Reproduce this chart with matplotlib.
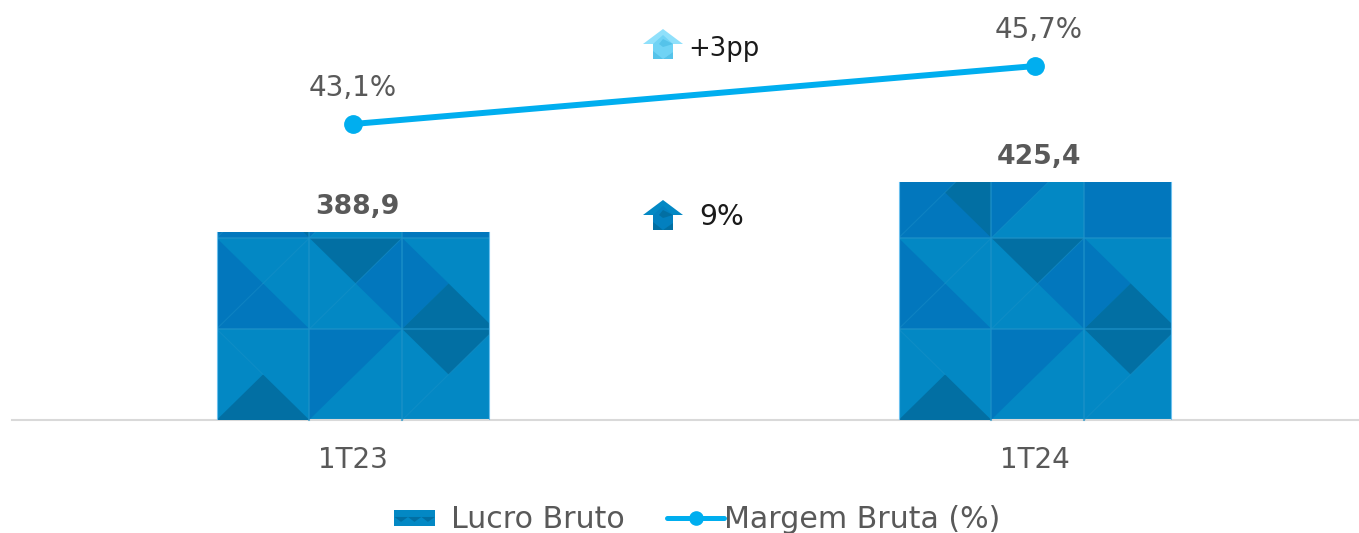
import matplotlib
matplotlib.use('Agg')
import matplotlib.pyplot as plt
from matplotlib.patches import Polygon, Rectangle
from matplotlib.lines import Line2D
from matplotlib.legend_handler import HandlerPatch

categories = ['1T23', '1T24']
lucro_bruto = [388.9, 425.4]
margem_bruta = [43.1, 45.7]
lucro_labels = ['388,9', '425,4']
margem_labels = ['43,1%', '45,7%']

BASE = '#0388c4'
MID = '#0277bd'
DARK = '#026fa3'
LINE = '#00aeef'
GRAY = '#595959'

# tile of the bar fill, in cells (u, v) from the bottom left of the bar
tile = [
    (DARK, [(0, 0), (1, 0), (0.5, 0.5)]),
    (MID, [(1, 0), (1, 1), (2, 1)]),
    (DARK, [(2, 1), (3, 1), (2.5, 0.5)]),
    (MID, [(0, 2), (0.5, 1.5), (1, 1), (0, 1)]),
    (DARK, [(1, 2), (2, 2), (1.5, 1.5)]),
    (MID, [(2, 2), (1.5, 1.5), (2, 1)]),
    (MID, [(2, 2), (2.5, 1.5), (2, 1)]),
    (DARK, [(2.5, 1.5), (3, 1), (2, 1)]),
    (MID, [(0, 2), (1, 2), (1, 3), (0, 3)]),
    (DARK, [(1, 2), (1, 3), (0.5, 2.5)]),
    (MID, [(1, 2), (1, 3), (2, 3)]),
    (MID, [(2, 2), (3, 2), (3, 3), (2, 3)]),
]
# faint diagonals inside the tile
seams = [
    [(0, 1), (0.5, 0.5)], [(2, 0), (3, 1)], [(0, 1), (0.5, 1.5)],
    [(0.5, 1.5), (1, 2)], [(1, 1), (2, 2)], [(0, 2), (1, 3)], [(1, 2), (2, 3)],
]

fig = plt.figure(figsize=(13.59, 5.33), dpi=100)
ax = fig.add_axes([12 / 1359, 113 / 533, 1347 / 1359, 420 / 533])
x = list(range(len(categories)))
bars = ax.bar(x, lucro_bruto, width=0.4, color=BASE, zorder=2)
ax.set_xlim(-0.5, 1.475)
ax.set_ylim(251.6, 558.4)
ax.set_xticks(x)
ax.set_xticklabels(categories, fontsize=20, color=GRAY)
ax.tick_params(axis='x', length=0, pad=18.5)
ax.set_yticks([])
for s in ['top', 'left', 'right']:
    ax.spines[s].set_visible(False)
ax.spines['bottom'].set_color('#d9d9d9')
ax.spines['bottom'].set_linewidth(1.5)

cell_h = 66.5
for bar in bars:
    x0 = bar.get_x()
    w = bar.get_width()
    y0 = ax.get_ylim()[0]
    cell_w = w / 2.94
    for color, pts in tile:
        xy = [(x0 + u * cell_w, y0 + v * cell_h) for u, v in pts]
        p = Polygon(xy, closed=True, fc=color, ec='none', zorder=3)
        ax.add_patch(p)
        p.set_clip_path(bar)
    for pts in seams:
        l, = ax.plot([x0 + u * cell_w for u, v in pts], [y0 + v * cell_h for u, v in pts],
                     color='#1f93c9', lw=0.8, alpha=0.4, zorder=4)
        l.set_clip_path(bar)
    # lighter seams between the cells
    for u in [1, 2]:
        l, = ax.plot([x0 + u * cell_w] * 2, [y0, y0 + 3 * cell_h], color='#1f93c9', lw=1.5, alpha=0.6, zorder=4)
        l.set_clip_path(bar)
    for v in [1, 2]:
        l, = ax.plot([x0, x0 + w], [y0 + v * cell_h] * 2, color='#1f93c9', lw=1.5, alpha=0.6, zorder=4)
        l.set_clip_path(bar)
    for side in [x0, x0 + w]:
        ax.plot([side, side], [y0, bar.get_height()], color='#6cc0ee', lw=0.8, zorder=4)

for i, label in enumerate(lucro_labels):
    ax.annotate(label, (x[i], lucro_bruto[i]), xytext=(3, 18), textcoords='offset points',
                ha='center', va='center', fontsize=19.2, fontweight='bold', color=GRAY)

ax2 = ax.twinx()
ax2.set_ylim(29.83, 48.66)
ax2.set_yticks([])
for s in ax2.spines.values():
    s.set_visible(False)
ax2.plot(x, margem_bruta, color=LINE, lw=4.3, marker='o', ms=12.5, solid_capstyle='round')
for i, label_off in enumerate(zip(margem_labels, [0, 2.5])):
    label, off = label_off
    ax2.annotate(label, (x[i], margem_bruta[i]), xytext=(off, 26), textcoords='offset points',
                 ha='center', va='center', fontsize=20, color=GRAY)


def arrow(cx, cy, main, shade, dark):
    # small house-shaped arrow, placed in image pixels
    def px(pts):
        return [((cx + a) / 1359, 1 - (cy + b) / 533) for a, b in pts]
    shapes = [
        (main, [(0, -15), (20, 0), (10, 0), (10, 15), (-10, 15), (-10, 0), (-20, 0)]),
        (shade, [(-10, 0), (0, -9), (10, 0), (10, 8), (0, 15), (-10, 15)]),
        (dark, [(-10, 7), (0, 15), (-10, 15)]),
        (dark, [(0, -5), (10, 0), (0, 3), (-4, 0)]),
        (dark, [(0, 15), (10, 8), (10, 15)]),
    ]
    for color, pts in shapes:
        fig.add_artist(Polygon(px(pts), closed=True, fc=color, ec='none', transform=fig.transFigure))


arrow(663, 44, '#8fe0fb', '#6fd3f5', '#55c3ea')
arrow(663, 215, '#0388c4', '#0380bf', '#026fa3')
fig.text(688 / 1359, 1 - 49 / 533, '+3pp', fontsize=18.6, color='#1a1a1a', va='center', ha='left')
fig.text(722 / 1359, 1 - 217 / 533, '9%', fontsize=20.3, color='#1a1a1a', va='center', ha='center')


class TileHandler(HandlerPatch):
    def create_artists(self, legend, orig_handle, xdescent, ydescent, width, height, fontsize, trans):
        w = width * 40 / 56
        y0 = height * 0.12
        h = height * 0.78
        out = [Rectangle((-xdescent, y0 - ydescent), w, h, fc=BASE, ec='none', transform=trans)]
        for u0 in [0, 0.33, 0.66]:
            tri = Polygon([(u0 * w, y0 + h * 0.55), ((u0 + 0.33) * w, y0 + h * 0.55),
                           ((u0 + 0.16) * w, y0 + h * 0.25)],
                          closed=True, fc=DARK, ec='none', transform=trans)
            out.append(tri)
        return out


handles = [Rectangle((0, 0), 1, 1, fc=BASE),
           Line2D([], [], color=LINE, lw=3.6, marker='o', ms=9.5, solid_capstyle='round')]
fig.legend(handles, ['Lucro Bruto', 'Margem Bruta (%)'], handler_map={Rectangle: TileHandler()},
           loc='center', bbox_to_anchor=(697.5 / 1359, 1 - 520 / 533), ncol=2, frameon=False,
           fontsize=21.6, labelcolor=GRAY, columnspacing=1.4, handlelength=1.9, handletextpad=0,
           borderpad=0, borderaxespad=0)

plt.savefig('out.png', dpi=100)
